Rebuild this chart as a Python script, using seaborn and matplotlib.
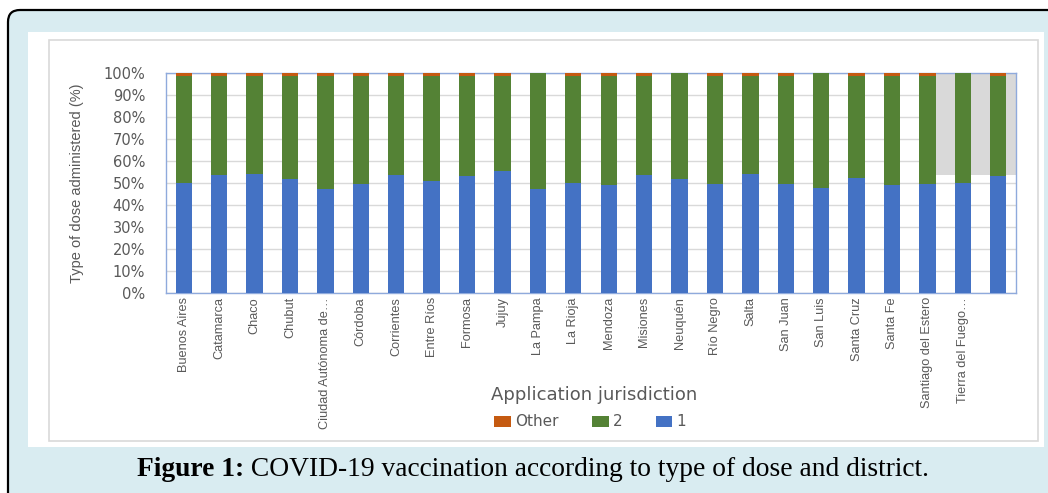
import matplotlib
matplotlib.use("Agg")
import matplotlib.pyplot as plt
from matplotlib.patches import FancyBboxPatch, Rectangle, Patch
from matplotlib.transforms import IdentityTransform, offset_copy
import seaborn as sns
import pandas as pd

# Application jurisdictions (x axis)
jurisdictions = ["Buenos Aires", "Catamarca", "Chaco", "Chubut", "Ciudad Autónoma de…",
                 "Córdoba", "Corrientes", "Entre Ríos", "Formosa", "Jujuy", "La Pampa",
                 "La Rioja", "Mendoza", "Misiones", "Neuquén", "Río Negro", "Salta",
                 "San Juan", "San Luis", "Santa Cruz", "Santa Fe", "Santiago del Estero",
                 "Tierra del Fuego…", " "]
# Share of doses (%) by type
dose_1 = [50.0, 53.6, 54.1, 51.8, 47.4, 49.7, 53.6, 50.8, 53.3, 55.6, 47.1, 49.9,
          49.1, 53.5, 51.7, 49.4, 54.1, 49.4, 47.9, 52.3, 49.1, 49.5, 49.9, 53.2]
dose_other = [1.5, 1.5, 1.5, 1.5, 1.5, 1.5, 1.5, 1.5, 1.5, 1.5, 0.0, 1.5,
              1.5, 1.5, 0.0, 1.5, 1.5, 1.5, 0.0, 1.5, 1.5, 1.5, 0.0, 1.5]
dose_2 = [100 - a - o for a, o in zip(dose_1, dose_other)]
y_ticks = [0, 10, 20, 30, 40, 50, 60, 70, 80, 90, 100]
y_tick_labels = [f"{t}%" for t in y_ticks]
legend_labels = ["Other", "2", "1"]

C1, C2, COTHER = "#4472c4", "#548235", "#c55a11"
GREY_TXT = "#595959"
NARROW = ["Liberation Sans", "DejaVu Sans"]
SERIF = ["Liberation Serif", "DejaVu Serif"]

df = pd.DataFrame({"jurisdiction": jurisdictions, "d1": dose_1, "d2": dose_2,
                   "other": dose_other})
df["top_2"] = df["d1"] + df["d2"]
df["top_other"] = df["top_2"] + df["other"]

sns.set_theme(style="white")
plt.rcParams["font.family"] = ["DejaVu Sans"]

W, H = 1048, 493
fig = plt.figure(figsize=(W / 100, H / 100), dpi=100)
fig.patch.set_facecolor("white")

def px(x0, y0, x1, y1):
    """Box given by top-left / bottom-right pixel corners -> display coords."""
    return x0, H - y1, x1 - x0, y1 - y0

# page frame: light blue rounded box, white panel, thin grey chart border
x, y, w, h = px(8, 10, 1080, 515)
fig.patches.append(FancyBboxPatch((x, y), w, h, boxstyle="round,pad=0,rounding_size=12",
                                  transform=IdentityTransform(), facecolor="#d9ecf1",
                                  edgecolor="black", linewidth=1.6, zorder=-3))
x, y, w, h = px(28, 32, 1044, 447)
fig.patches.append(Rectangle((x, y), w, h, transform=IdentityTransform(),
                             facecolor="white", edgecolor="none", zorder=-2))
x, y, w, h = px(49, 40, 1038, 441)
fig.patches.append(Rectangle((x, y), w, h, transform=IdentityTransform(),
                             facecolor="white", edgecolor="#d9d9d9", linewidth=1.2, zorder=-1))

ax = fig.add_axes([166 / W, (H - 293) / H, 850 / W, 220 / H])
ax.set_facecolor("white")

order = jurisdictions
bar_kw = dict(order=order, width=0.46, saturation=1, linewidth=0, ax=ax)
sns.barplot(data=df, x="jurisdiction", y="top_other", color=COTHER, zorder=3, **bar_kw)
sns.barplot(data=df, x="jurisdiction", y="top_2", color=C2, zorder=4, **bar_kw)
sns.barplot(data=df, x="jurisdiction", y="d1", color=C1, zorder=5, **bar_kw)

ax.set_xlim(-0.5, len(order) - 0.5)
ax.set_ylim(0, 100)

# shaded band at the right end of the plot area
ax.add_patch(Rectangle((21.23, 53.6), len(order) - 0.5 - 21.23, 100 - 53.6,
                       facecolor="#d9d9d9", edgecolor="none", zorder=2))

ax.set_yticks(y_ticks)
ax.set_yticklabels(y_tick_labels, fontsize=10.5, color=GREY_TXT)
ax.yaxis.grid(True, color="#d9d9d9", linewidth=1, zorder=0)
ax.set_axisbelow(True)
ax.tick_params(axis="y", length=0, pad=15)
ax.tick_params(axis="x", length=0, pad=3)
ax.set_xticks(range(len(order)))
ax.set_xticklabels(order, rotation=90, fontsize=9.2, color=GREY_TXT, family=NARROW,
                   ha="center", va="top")
for s in ax.spines.values():
    s.set_color("#8faadc")
    s.set_linewidth(1)

ax.set_xlabel("")
ax.set_ylabel("Type of dose administered (%)", fontsize=10.5, color=GREY_TXT, family=NARROW)
ax.yaxis.set_label_coords((84 - 166) / 850, 0.5)

fig.text(594 / W, 1 - 395 / H, "Application jurisdiction", fontsize=13, color=GREY_TXT,
         ha="center", va="center")

handles = [Patch(facecolor=c, edgecolor="none") for c in (COTHER, C2, C1)]
fig.legend(handles, legend_labels, loc="center", bbox_to_anchor=(590 / W, 1 - 422 / H),
           ncol=3, frameon=False, fontsize=11, labelcolor=GREY_TXT, handlelength=1.1,
           handleheight=0.75, handletextpad=0.25, columnspacing=2.2)

# caption: bold lead-in followed by regular text
bold = fig.text(137 / W, 1 - 482 / H, "Figure 1:", fontsize=19.8, fontweight="bold",
                family=SERIF, color="black", ha="left", va="bottom")
fig.canvas.draw()
x_end = bold.get_window_extent().x1
fig.text(0, 0, " COVID-19 vaccination according to type of dose and district.",
         fontsize=19.8, family=SERIF, color="black", ha="left", va="bottom",
         transform=offset_copy(fig.transFigure, fig=fig, x=x_end / fig.dpi * 72,
                               y=(H - 482) / fig.dpi * 72, units="points"))

fig.savefig("out.png", dpi=100)
